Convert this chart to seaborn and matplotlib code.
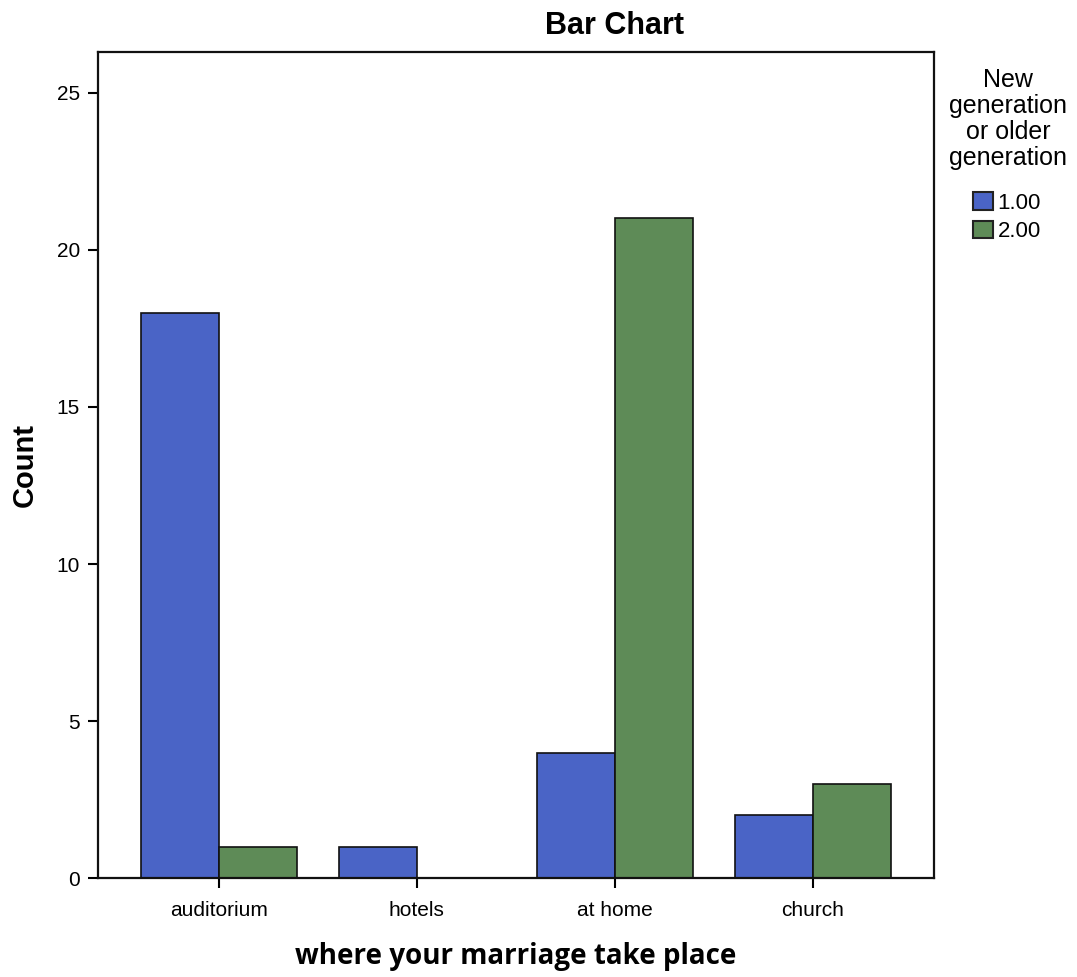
import pandas as pd
import matplotlib
matplotlib.use("Agg")
import matplotlib.pyplot as plt
import seaborn as sns

# values
places = ["auditorium", "hotels", "at home", "church"]
gen_1 = [18, 1, 4, 2]
gen_2 = [1, 0, 21, 3]
groups = ["1.00", "2.00"]

df = pd.DataFrame({
    "place": places * 2,
    "generation": [groups[0]] * 4 + [groups[1]] * 4,
    "count": gen_1 + gen_2,
})

sns.set_style("white")
plt.rcParams["font.family"] = ["Liberation Sans", "DejaVu Sans"]
plt.rcParams["text.color"] = "black"
plt.rcParams["axes.labelcolor"] = "black"
plt.rcParams["xtick.color"] = "black"
plt.rcParams["ytick.color"] = "black"

fig = plt.figure(figsize=(10.77, 9.77), dpi=100)
ax = fig.add_axes([0.091, 0.101, 0.776, 0.846])

sns.barplot(
    data=df,
    x="place",
    y="count",
    hue="generation",
    order=places,
    hue_order=groups,
    palette=["#4a64c6", "#5e8b57"],
    width=0.79,
    edgecolor="#111111",
    linewidth=1.2,
    saturation=1,
    ax=ax,
)

ax.set_xlim(-0.61, 3.61)
ax.set_ylim(0, 26.3)
ax.set_yticks([0, 5, 10, 15, 20, 25])

for side in ax.spines.values():
    side.set_linewidth(1.6)
    side.set_color("#111111")

ax.tick_params(axis="both", direction="out", length=7, width=1.5, pad=6,
               labelsize=15, bottom=True, left=True)
ax.tick_params(axis="x", pad=9)

ax.set_title("Bar Chart", fontsize=22, fontweight="bold", pad=13, x=0.618)
ax.set_ylabel("Count", fontsize=21, fontweight="bold", labelpad=13)
ax.set_xlabel("where your marriage take place", fontsize=20,
              fontweight="bold", family=["Open Sans", "DejaVu Sans"],
              labelpad=16)

# legend title as its own text, entries below it
fig.text(0.936, 0.930, "New\ngeneration\nor older\ngeneration",
         ha="center", va="top", fontsize=18, linespacing=1.1,
         multialignment="center")

leg = ax.legend(
    loc="upper left",
    bbox_to_anchor=(0.9034, 0.803),
    bbox_transform=fig.transFigure,
    frameon=False,
    fontsize=16,
    handlelength=0.9,
    handleheight=0.85,
    handletextpad=0.2,
    labelspacing=0.3,
    borderpad=0,
    borderaxespad=0,
)
for h in leg.legend_handles:
    h.set_edgecolor("#222222")
    h.set_linewidth(1.5)

fig.savefig("out.png", dpi=100)
